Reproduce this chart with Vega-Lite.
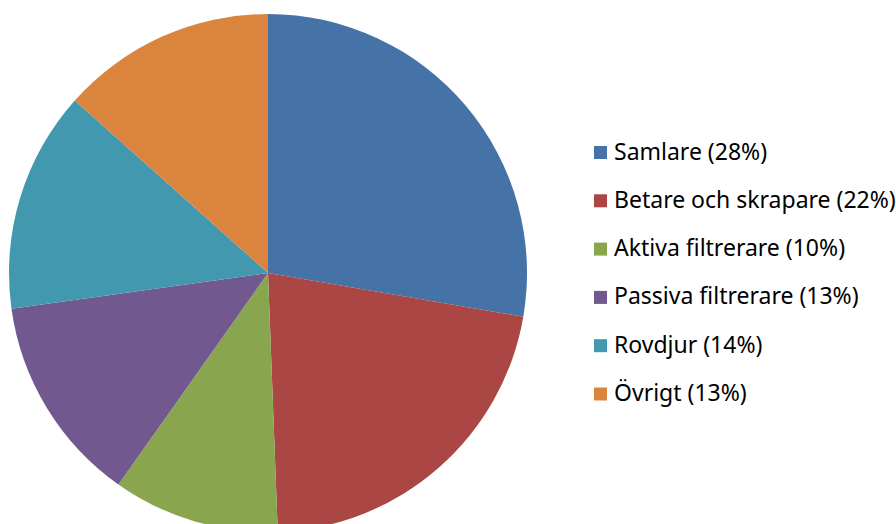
{
  "$schema": "https://vega.github.io/schema/vega-lite/v6.json",
  "width": 536,
  "height": 546,
  "padding": 0,
  "autosize": {"type": "pad"},
  "background": "white",
  "view": {"stroke": null},
  "data": {
    "values": [
      {"i": 1, "kategori": "Samlare (28%)", "andel": 27.7},
      {"i": 2, "kategori": "Betare och skrapare (22%)", "andel": 21.7},
      {"i": 3, "kategori": "Aktiva filtrerare (10%)", "andel": 10.4},
      {"i": 4, "kategori": "Passiva filtrerare (13%)", "andel": 13.0},
      {"i": 5, "kategori": "Rovdjur (14%)", "andel": 13.8},
      {"i": 6, "kategori": "Övrigt (13%)", "andel": 13.4}
    ]
  },
  "mark": {"type": "arc", "outerRadius": 259, "stroke": null},
  "encoding": {
    "theta": {"field": "andel", "type": "quantitative", "stack": true},
    "order": {"field": "i", "type": "quantitative"},
    "color": {
      "field": "kategori",
      "type": "nominal",
      "sort": null,
      "scale": {
        "domain": ["Samlare (28%)", "Betare och skrapare (22%)", "Aktiva filtrerare (10%)", "Passiva filtrerare (13%)", "Rovdjur (14%)", "Övrigt (13%)"],
        "range": ["#4572A7", "#AA4643", "#89A54E", "#71588F", "#4198AF", "#DB843D"]
      },
      "legend": {
        "title": null,
        "orient": "none",
        "legendX": 589,
        "legendY": 141,
        "symbolType": "square",
        "symbolSize": 169,
        "symbolStrokeWidth": 0,
        "labelFont": "Noto Sans",
        "labelFontSize": 23,
        "labelColor": "#000000",
        "labelOffset": 2,
        "labelLimit": 400,
        "rowPadding": 24.3
      }
    }
  }
}
